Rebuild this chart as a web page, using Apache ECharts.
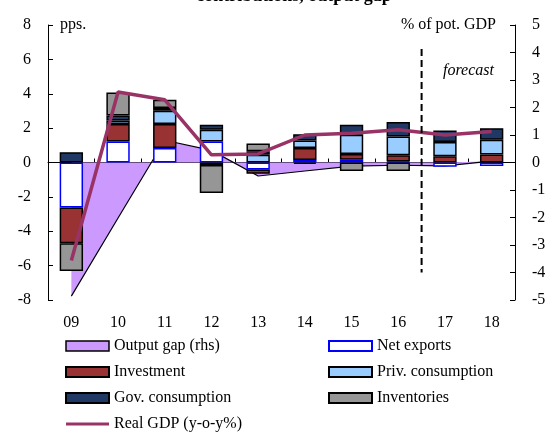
<!DOCTYPE html>
<html><head><meta charset="utf-8">
<script src="https://cdn.jsdelivr.net/npm/echarts@6/dist/echarts.min.js"></script>
<style>html,body{margin:0;padding:0;background:#fff}#c{width:547px;height:432px}</style>
</head><body><div id="c"></div>
<script>
const years = ['09','10','11','12','13','14','15','16','17','18'];
const netExports  = [-2.62, 1.22, 0.84, 1.22, -0.40, 0.15, 0.16, 0.06, -0.25, -0.21];
const investment  = [-2.08, 1.02, 1.40, -0.15, -0.26, 0.70, 0.34, 0.36, 0.36, 0.47];
const privCons    = [null, 0.20, 0.77, 0.68, 0.45, 0.43, 1.11, 1.10, 0.84, 0.85];
const govCons     = [0.60, 0.30, 0.16, 0.30, 0.20, 0.37, 0.59, 0.83, 0.66, 0.68];
const inventories = [-1.61, 1.33, 0.48, -1.63, 0.45, -0.08, -0.50, -0.50, null, null];
const realGDP     = [-5.7, 4.1, 3.65, 0.45, 0.5, 1.6, 1.7, 1.9, 1.6, 1.8];
const outputGap   = [-4.86, -2.02, 0.81, 0.44, -0.49, -0.31, -0.13, -0.10, -0.12, 0.05];
const leftTicks = [-8, -6, -4, -2, 0, 2, 4, 6, 8];
const rightTicks = [-5, -4, -3, -2, -1, 0, 1, 2, 3, 4, 5];

const FONT = 'Liberation Serif';
const chart = echarts.init(document.getElementById('c'), null, {renderer: 'canvas'});

function barSeries(name, data, fill, border) {
  return {
    name, type: 'bar', stack: 'c', data, barWidth: '50%', z: 2,
    itemStyle: {color: fill, borderColor: border, borderWidth: 1.5}
  };
}

const option = {
  animation: false,
  backgroundColor: '#fff',
  textStyle: {fontFamily: FONT, color: '#000'},
  grid: {left: 48, right: 32, top: 25, height: 275, containLabel: false, outerBoundsMode: 'none'},
  xAxis: [
    {type: 'category', data: years, position: 'bottom',
     axisLine: {onZero: true, onZeroAxisIndex: 0, lineStyle: {color: '#000', width: 1}},
     axisTick: {show: true, inside: true, length: 4, lineStyle: {color: '#000'}},
     axisLabel: {show: false},
     splitLine: {show: false}},
    {type: 'category', data: years, position: 'bottom',
     axisLine: {show: false, onZero: false},
     axisTick: {show: false},
     axisLabel: {show: true, fontSize: 16, fontFamily: FONT, color: '#000', margin: 15},
     splitLine: {show: false}}
  ],
  yAxis: [
    {type: 'value', position: 'left', min: leftTicks[0], max: leftTicks[leftTicks.length-1], interval: 2,
     axisLine: {show: true, lineStyle: {color: '#000', width: 1}},
     axisTick: {show: true, inside: true, length: 5, lineStyle: {color: '#000'}},
     axisLabel: {fontSize: 16, fontFamily: FONT, color: '#000', margin: 17},
     splitLine: {show: false}},
    {type: 'value', position: 'right', min: rightTicks[0], max: rightTicks[rightTicks.length-1], interval: 1,
     axisLine: {show: true, lineStyle: {color: '#000', width: 1}},
     axisTick: {show: true, inside: true, length: 5, lineStyle: {color: '#000'}},
     axisLabel: {fontSize: 16, fontFamily: FONT, color: '#000', margin: 17},
     splitLine: {show: false}}
  ],
  legend: [
    {left: 65, top: 338, orient: 'vertical', itemWidth: 43, itemHeight: 10, itemGap: 10, padding: 0,
     textStyle: {fontSize: 16, fontFamily: FONT, color: '#000', lineHeight: 16},
     data: [
       {name: 'Output gap (rhs)', icon: 'rect', itemStyle: {color: '#CC99FF', borderColor: '#000', borderWidth: 1.5}},
       {name: 'Investment', icon: 'rect'},
       {name: 'Gov. consumption', icon: 'rect'},
       {name: 'Real GDP (y-o-y%)', icon: 'path://M0,0L44,0L44,3L0,3Z', itemStyle: {color: '#993366', borderWidth: 0}}
     ]},
    {left: 328, top: 338, orient: 'vertical', itemWidth: 43, itemHeight: 10, itemGap: 10, padding: 0,
     textStyle: {fontSize: 16, fontFamily: FONT, color: '#000', lineHeight: 16},
     data: [
       {name: 'Net exports', icon: 'rect'},
       {name: 'Priv. consumption', icon: 'rect'},
       {name: 'Inventories', icon: 'rect'}
     ]}
  ],
  series: [
    {name: 'Output gap (rhs)', type: 'line', yAxisIndex: 1, data: outputGap, z: 1,
     symbol: 'none', showSymbol: false,
     itemStyle: {color: '#CC99FF'},
     lineStyle: {color: '#000', width: 1.2},
     areaStyle: {color: '#CC99FF', opacity: 1}},
    barSeries('Net exports', netExports, '#FFFFFF', '#0000FF'),
    barSeries('Investment', investment, '#993333', '#000'),
    barSeries('Priv. consumption', privCons, '#99CCFF', '#000'),
    barSeries('Gov. consumption', govCons, '#1F3864', '#000'),
    barSeries('Inventories', inventories, '#969696', '#000'),
    {name: 'Real GDP (y-o-y%)', type: 'line', data: realGDP, z: 3,
     symbol: 'none', showSymbol: false,
     itemStyle: {color: '#993366'},
     lineStyle: {color: '#993366', width: 3.5}}
  ]
};
chart.setOption(option);

// annotations
const xa = chart.convertToPixel({xAxisIndex: 0}, '16');
const xb = chart.convertToPixel({xAxisIndex: 0}, '17');
const xDash = (xa + xb) / 2;
const yTop = chart.convertToPixel({yAxisIndex: 0}, 6.6);
const yBot = chart.convertToPixel({yAxisIndex: 0}, -6.4);
chart.setOption({
  graphic: [
    {type: 'text', x: 294, y: -13, z: 10,
     style: {text: 'contributions, output gap', font: 'bold 18px "Liberation Serif"', fill: '#000', align: 'center'}},
    {type: 'text', x: 60, y: 17, z: 10,
     style: {text: 'pps.', font: '16px "Liberation Serif"', fill: '#000'}},
    {type: 'text', x: 496, y: 17, z: 10,
     style: {text: '% of pot. GDP', font: '16px "Liberation Serif"', fill: '#000', align: 'right'}},
    {type: 'text', x: 443, y: 63, z: 10,
     style: {text: 'forecast', font: 'italic 16px "Liberation Serif"', fill: '#000'}},
    {type: 'line', z: 10, shape: {x1: xDash, y1: yTop, x2: xDash, y2: yBot},
     style: {stroke: '#000', lineWidth: 2, lineDash: [7, 4]}}
  ]
});
</script>
</body></html>
